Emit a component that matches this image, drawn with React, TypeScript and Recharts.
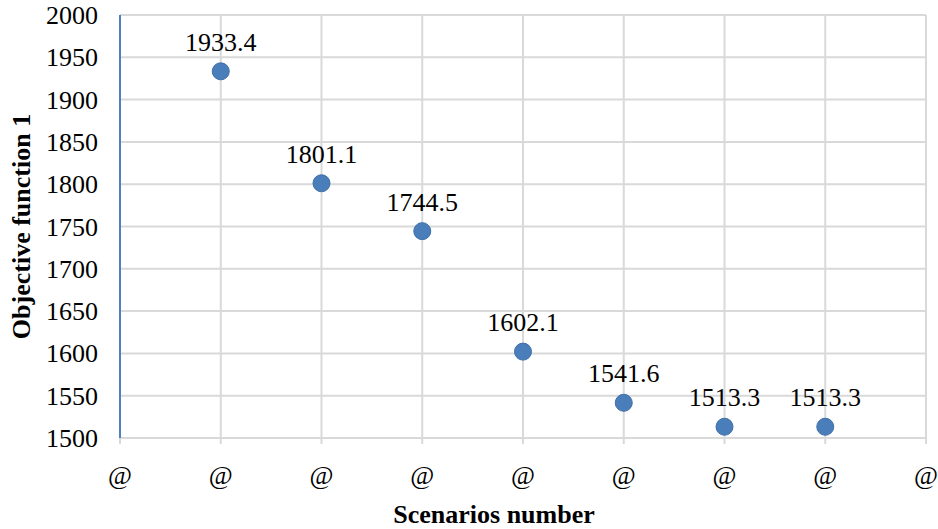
import { CartesianGrid, LabelList, Scatter, ScatterChart, XAxis, YAxis } from "recharts";

const scenarios = [1, 2, 3, 4, 5, 6, 7];
const objective = [1933.4, 1801.1, 1744.5, 1602.1, 1541.6, 1513.3, 1513.3];
const xTicks = [0, 1, 2, 3, 4, 5, 6, 7, 8];
const yTicks = [1500, 1550, 1600, 1650, 1700, 1750, 1800, 1850, 1900, 1950, 2000];

const data = scenarios.map((s, i) => ({ x: s, y: objective[i] }));

const font = "Liberation Serif, Times New Roman, serif";

const XTick = (p: any) => (
  <text x={p.x} y={p.y + 38} textAnchor="middle" fontSize={26} fontFamily={font} fill="#000">
    @
  </text>
);

const YTick = (p: any) => (
  <text x={p.x} y={p.y + 9} textAnchor="end" fontSize={26} fontFamily={font} fill="#000">
    {p.payload.value}
  </text>
);

const PointLabel = (p: any) => (
  <text x={p.x + p.width / 2} y={p.y - 16} textAnchor="middle" fontSize={26} fontFamily={font} fill="#000">
    {p.value}
  </text>
);

export default function App() {
  return (
    <div style={{ position: "absolute", left: 0, top: 0, background: "#fff" }}>
      <ScatterChart
        width={938}
        height={529}
        margin={{ top: 15, right: 12, bottom: 0, left: 0 }}
      >
        <CartesianGrid stroke="#d9d9d9" strokeWidth={2} />
        <XAxis
          type="number"
          dataKey="x"
          domain={[0, 8]}
          ticks={xTicks}
          height={91}
          stroke="#d9d9d9"
          strokeWidth={2}
          tickSize={6}
          tick={<XTick />}
          label={{
            value: "Scenarios number",
            position: "insideBottom",
            offset: 6,
            dx: -29,
            fill: "#000",
            fontSize: 26,
            fontWeight: "bold",
            fontFamily: font,
          }}
        />
        <YAxis
          type="number"
          dataKey="y"
          domain={[1500, 2000]}
          ticks={yTicks}
          width={120}
          stroke="#4f81bd"
          strokeWidth={2}
          tickLine={false}
          tickSize={6}
          tickMargin={16}
          tick={<YTick />}
          label={{
            value: "Objective function 1",
            angle: -90,
            position: "insideLeft",
            offset: 21,
            style: { textAnchor: "middle" },
            fill: "#000",
            fontSize: 26,
            fontWeight: "bold",
            fontFamily: font,
          }}
        />
        <Scatter
          data={data}
          fill="#4a7ebb"
          isAnimationActive={false}
          shape={(p: any) => (
            <circle cx={p.cx} cy={p.cy} r={8.5} fill="#4a7ebb" stroke="#3f6fa8" strokeWidth={1} />
          )}
        >
          <LabelList dataKey="y" content={<PointLabel />} />
        </Scatter>
      </ScatterChart>
    </div>
  );
}
